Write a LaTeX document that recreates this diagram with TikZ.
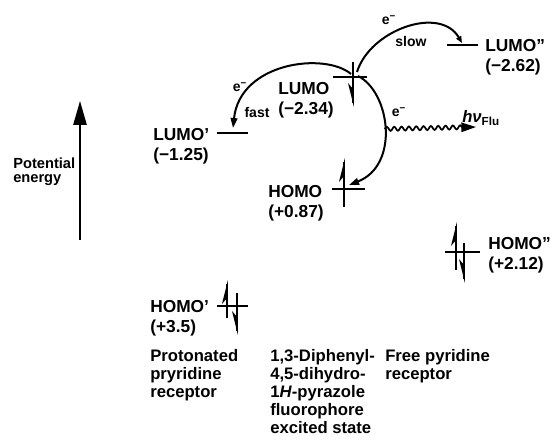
\documentclass[tikz,border=0pt]{standalone}
\usepackage{fontspec}
\setmainfont{Liberation Sans}
\usetikzlibrary{arrows.meta,decorations.pathmorphing}
% spin half-arrows: x, ytop, ybottom (pixel units, y downward)
\newcommand\spinUp[3]{%
  \draw[spin] (#1,#3) -- (#1,#2+4);
  \fill (#1+0.9,#2) -- (#1-5,#2+24) -- (#1+0.9,#2+17) -- cycle;}
\newcommand\spinDown[3]{%
  \draw[spin] (#1,#2) -- (#1,#3-4);
  \fill (#1+0.9,#3) -- (#1-5,#3-24) -- (#1+0.9,#3-17) -- cycle;}
\begin{document}
\begin{tikzpicture}[x=0.75pt,y=-0.75pt,
  lvl/.style={line width=1.4pt},
  spin/.style={line width=1.4pt},
  arc/.style={line width=1.5pt},
  lab/.style={anchor=north west,inner sep=0pt,align=left,font=\bfseries\fontsize{13}{15}\selectfont},
  capt/.style={anchor=north west,inner sep=0pt,align=left,font=\bfseries\fontsize{12.5}{13.5}\selectfont},
  pe/.style={anchor=north west,inner sep=0pt,align=left,font=\bfseries\fontsize{11}{10}\selectfont},
  small/.style={inner sep=0pt,font=\bfseries\fontsize{10.5}{11}\selectfont},
  tipbig/.style={-{Triangle[length=7.5pt,width=5pt]}}]
\useasboundingbox (0,0) rectangle (560,448);

% potential energy axis
\coordinate (pB) at (80,240);
\coordinate (pT) at (80,101);
\draw[line width=1.3pt,-{Triangle[length=18pt,width=10pt]}] (pB) -- (pT);
\node[pe] (pe) at (13,158) {Potential\\energy};

% energy levels
\draw[lvl] (217,133) -- (248,133); % LUMO'
\draw[lvl] (333,77) -- (367,77);   % LUMO
\draw[lvl] (332,189) -- (365,189); % HOMO
\draw[lvl] (447,45) -- (478,45);   % LUMO''
\draw[lvl] (445,252) -- (480,252); % HOMO''
\draw[lvl] (217,306) -- (248,306); % HOMO'

% electrons
\spinDown{353}{62}{107}
\spinUp{344}{158}{207}
\spinUp{456}{222}{270}
\spinDown{464}{243}{283}
\spinUp{227}{280}{318}
\spinDown{237}{293}{335}

% level labels
\node[lab] (lumoP) at (153,128) {LUMO’\\(−1.25)};
\node[lab] (lumo) at (278,82) {LUMO\\(−2.34)};
\node[lab] (homo) at (268,185) {HOMO\\(+0.87)};
\node[lab] (lumoPP) at (485,39) {LUMO”\\(−2.62)};
\node[lab] (homoPP) at (488,237) {HOMO”\\(+2.12)};
\node[lab] (homoP) at (150,300) {HOMO’\\(+3.5)};

% captions
\node[capt] (c1) at (150,349) {Protonated\\pryridine\\receptor};
\node[capt] (c2) at (270,349) {1,3-Diphenyl-\\4,5-dihydro-\\1\textit{H}-pyrazole\\fluorophore\\excited state};
\node[capt] (c3) at (385,349) {Free pyridine\\receptor};

% electron transfer arcs
\coordinate (fS) at (351,74);
\coordinate (fE) at (233,128);
\draw[arc,tipbig] (fS) .. controls (325,52) and (240,62) .. (fE);
\coordinate (rS) at (358,76);
\coordinate (rE) at (349,185);
\draw[arc,tipbig] (rS) .. controls (390,92) and (400,165) .. (rE) coordinate[pos=0.5] (w);
\coordinate (sS) at (357,72);
\coordinate (sE) at (462,43);
\draw[arc,-{Triangle[length=5pt,width=4pt]}] (sS) .. controls (370,30) and (440,5) .. (sE);

% fluorescence
\coordinate (wE) at (476,127);
\draw[line width=1.3pt,decorate,decoration={snake,amplitude=1.5pt,segment length=5.5pt,post length=9pt},-{Triangle[length=11pt,width=7pt]}] (w) -- (wE);
\node[anchor=base west,inner sep=0pt,font=\bfseries\fontsize{12.5}{13}\selectfont] (hv) at (462,123) {\textit{hν}\textsubscript{Flu}};

% small labels
\node[small] (e1) at (240,87) {e\textsuperscript{−}};
\node[small] (fast) at (257,113) {fast};
\node[small] (e2) at (389,20) {e\textsuperscript{−}};
\node[small] (slow) at (411,42) {slow};
\node[small] (e3) at (399,112) {e\textsuperscript{−}};
\end{tikzpicture}
\end{document}
